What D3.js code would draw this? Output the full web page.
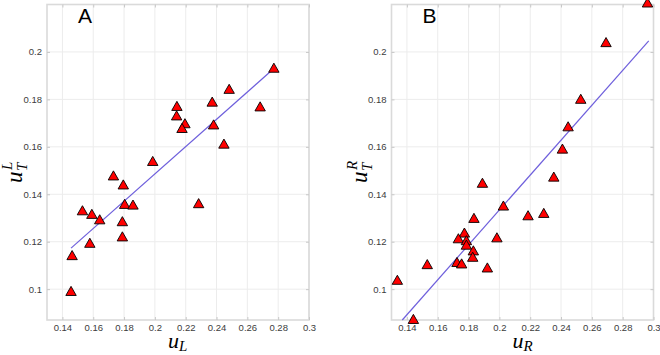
<!DOCTYPE html>
<html>
<head>
<meta charset="utf-8">
<script src="https://cdn.jsdelivr.net/npm/d3@7/dist/d3.min.js"></script>
<style>
  html, body { margin: 0; padding: 0; background: #fff; }
  svg { display: block; }
</style>
</head>
<body>
<svg id="chart" width="660" height="355"></svg>
<script>
// ---- Data ----
const panelLabels = ["A", "B"];
const xTicks = [0.14, 0.16, 0.18, 0.2, 0.22, 0.24, 0.26, 0.28, 0.3];
const yTicks = [0.1, 0.12, 0.14, 0.16, 0.18, 0.2];
const xTickLabels = ["0.14", "0.16", "0.18", "0.2", "0.22", "0.24", "0.26", "0.28", "0.3"];
const yTickLabels = ["0.1", "0.12", "0.14", "0.16", "0.18", "0.2"];

// Panel A: u_L vs u_T^L
const aX = [0.2772, 0.2482, 0.2372, 0.2683, 0.2143, 0.2141, 0.2195, 0.2176, 0.2381, 0.2448, 0.1986, 0.1731,
            0.1795, 0.1804, 0.1858, 0.2284, 0.1530, 0.1591, 0.1642, 0.1789, 0.1789, 0.1578, 0.1463, 0.1456];
const aY = [0.1930, 0.1841, 0.1787, 0.1767, 0.1769, 0.1729, 0.1696, 0.1676, 0.1691, 0.1610, 0.1537, 0.1476,
            0.1438, 0.1356, 0.1353, 0.1359, 0.1329, 0.1314, 0.1291, 0.1283, 0.1219, 0.1192, 0.1140, 0.0989];
const aFitX = [0.1456, 0.2772];
const aFitY = [0.1173, 0.1930];

// Panel B: u_R vs u_T^R
const bX = [0.2961, 0.2692, 0.2528, 0.2446, 0.2409, 0.2353, 0.1890, 0.2026, 0.2186, 0.2288, 0.1835, 0.1773,
            0.1734, 0.1786, 0.1786, 0.1984, 0.1831, 0.1827, 0.1532, 0.1725, 0.1755, 0.1922, 0.1338, 0.1442];
const bY = [0.2205, 0.2038, 0.1799, 0.1683, 0.1589, 0.1471, 0.1445, 0.1349, 0.1308, 0.1318, 0.1297, 0.1235,
            0.1211, 0.1203, 0.1184, 0.1215, 0.1160, 0.1133, 0.1102, 0.1111, 0.1105, 0.1088, 0.1036, 0.0871];
const bFitX = [0.1370, 0.2969];
const bFitY = [0.0870, 0.2047];

const xLabels = [["u", "L"], ["u", "R"]];
const yLabels = [["u", "T", "L"], ["u", "T", "R"]];

// ---- Drawing ----
const svg = d3.select("#chart");
svg.append("rect").attr("width", 660).attr("height", 355).attr("fill", "#fff");

const panels = [
  { left: 47, right: 309, xs: aX, ys: aY, fx: aFitX, fy: aFitY },
  { left: 391.5, right: 653.5, xs: bX, ys: bY, fx: bFitX, fy: bFitY }
];
const yTop = 4.5, yBottom = 320;

panels.forEach((p, i) => {
  const x = d3.scaleLinear().domain([0.13, 0.30]).range([p.left, p.right]);
  const y = d3.scaleLinear().domain([0.087, 0.22]).range([yBottom, yTop]);
  const g = svg.append("g");

  // grid
  g.append("g").selectAll("line").data(xTicks).join("line")
    .attr("x1", d => x(d)).attr("x2", d => x(d)).attr("y1", yTop).attr("y2", yBottom)
    .attr("stroke", "#ececec").attr("stroke-width", 1);
  g.append("g").selectAll("line").data(yTicks).join("line")
    .attr("y1", d => y(d)).attr("y2", d => y(d)).attr("x1", p.left).attr("x2", p.right)
    .attr("stroke", "#ececec").attr("stroke-width", 1);

  // box
  g.append("rect").attr("x", p.left).attr("y", yTop)
    .attr("width", p.right - p.left).attr("height", yBottom - yTop)
    .attr("fill", "none").attr("stroke", "#dadada").attr("stroke-width", 1.6);

  // axes (ticks inside, labels outside)
  const xAxis = d3.axisBottom(x).tickValues(xTicks).tickSize(-3).tickPadding(4)
    .tickFormat((d, k) => xTickLabels[k]);
  const yAxis = d3.axisLeft(y).tickValues(yTicks).tickSize(-3).tickPadding(5)
    .tickFormat((d, k) => yTickLabels[k]);
  const xa = g.append("g").attr("transform", `translate(0,${yBottom})`).call(xAxis);
  const ya = g.append("g").attr("transform", `translate(${p.left},0)`).call(yAxis);
  const xaTop = g.append("g").attr("transform", `translate(0,${yTop})`)
    .call(d3.axisTop(x).tickValues(xTicks).tickSize(-3).tickFormat(""));
  const yaRight = g.append("g").attr("transform", `translate(${p.right},0)`)
    .call(d3.axisRight(y).tickValues(yTicks).tickSize(-3).tickFormat(""));
  [xa, ya, xaTop, yaRight].forEach(a => {
    a.select(".domain").remove();
    a.selectAll(".tick line").attr("stroke", "#c8c8c8");
    a.selectAll(".tick text").attr("fill", "#3c3c3c")
      .style("font-family", "'Liberation Sans', Arial, sans-serif").style("font-size", "9.5px");
  });

  // fit line
  g.append("line")
    .attr("x1", x(p.fx[0])).attr("y1", y(p.fy[0]))
    .attr("x2", x(p.fx[1])).attr("y2", y(p.fy[1]))
    .attr("stroke", "#6e5fdc").attr("stroke-width", 1.2);

  // markers
  const tri = "M0,-5.4L5.2,3.7L-5.2,3.7Z";
  g.append("g").selectAll("path").data(p.xs.map((v, k) => [v, p.ys[k]])).join("path")
    .attr("d", tri)
    .attr("transform", d => `translate(${x(d[0])},${y(d[1])})`)
    .attr("fill", "#ff0000").attr("stroke", "#000").attr("stroke-width", 0.9);

  // panel letter
  g.append("text").attr("x", p.left + 31).attr("y", 23)
    .style("font-family", "'Liberation Sans', Arial, sans-serif").style("font-size", "21px")
    .attr("fill", "#000").text(panelLabels[i]);

  // x label
  const cx = (p.left + p.right) / 2;
  const xl = g.append("text").attr("x", cx - 10).attr("y", 348)
    .style("font-family", "'Liberation Serif', 'DejaVu Serif', serif").style("font-style", "italic")
    .attr("fill", "#000");
  xl.append("tspan").style("font-size", "22px").text(xLabels[i][0]);
  xl.append("tspan").style("font-size", "15px").attr("dy", 3).text(xLabels[i][1]);

  // y label (rotated, stacked sub/superscript)
  const yl = g.append("g").attr("transform", `translate(${p.left - 25},183) rotate(-90)`)
    .style("font-family", "'Liberation Serif', 'DejaVu Serif', serif").style("font-style", "italic")
    .attr("fill", "#000");
  yl.append("text").attr("x", 0).attr("y", 0).style("font-size", "23px").text(yLabels[i][0]);
  yl.append("text").attr("x", 12).attr("y", 5).style("font-size", "15px").text(yLabels[i][1]);
  yl.append("text").attr("x", 13).attr("y", -10).style("font-size", "15px").text(yLabels[i][2]);
});
</script>
</body>
</html>
